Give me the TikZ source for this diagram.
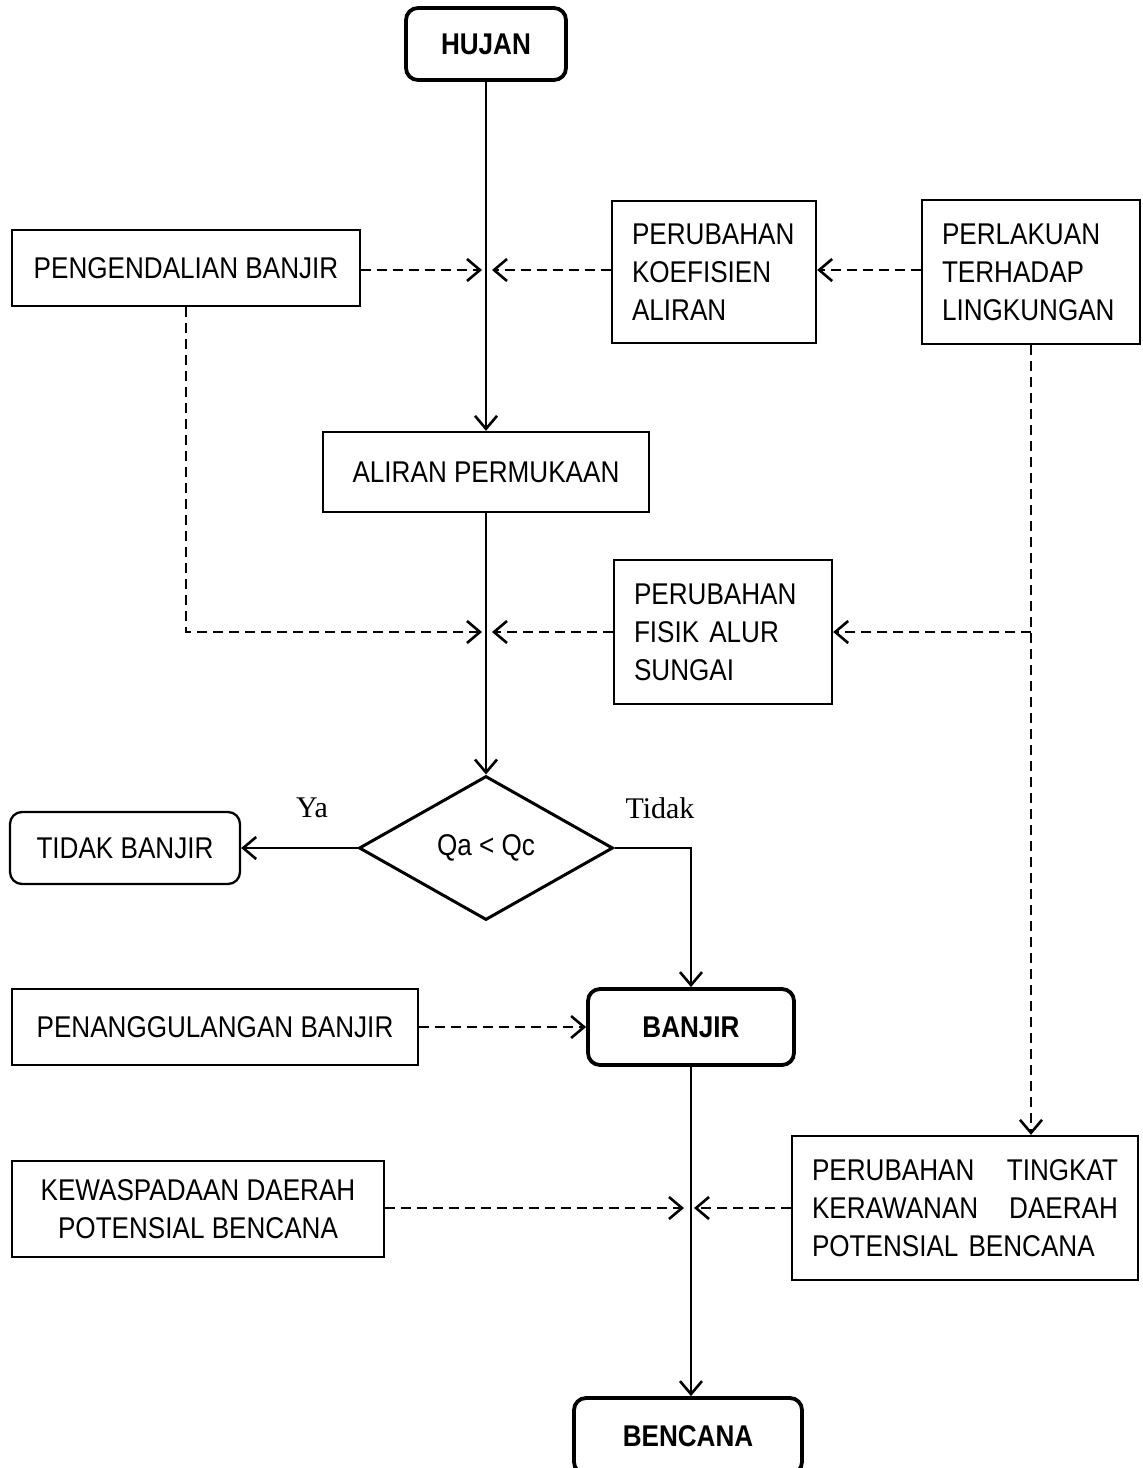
\documentclass[tikz,border=0pt]{standalone}
\usepackage{fontspec}
\setmainfont{Liberation Sans}[FakeStretch=0.87]
\newfontfamily\serifya{Liberation Serif}
\usetikzlibrary{arrows.meta,shapes.geometric,calc}
\tikzset{
  base/.style={font=\fontsize{30}{38}\selectfont, inner sep=0pt},
  rbox/.style={base, draw, line width=2.3pt},
  tbox/.style={rbox, align=left, inner xsep=20pt},
  thick box/.style={base, draw, line width=3.8pt, rounded corners=12pt, font=\fontsize{30}{38}\selectfont\bfseries},
  soft box/.style={base, draw, line width=2.3pt, rounded corners=12pt},
  conn/.style={line width=2.6pt, -{Straight Barb[length=13pt,width=22pt]}},
  dconn/.style={conn, dash pattern=on 10pt off 6pt},
  lbl/.style={font=\fontsize{30}{36}\selectfont\serifya, inner sep=0pt}
}
\begin{document}
\begin{tikzpicture}[x=1pt,y=-1pt]
\useasboundingbox (0,0) rectangle (1143,1468);
\clip (0,0) rectangle (1143,1468);
\fill[white] (0,0) rectangle (1143,1468);

\node[thick box, minimum width=160pt, minimum height=72pt] (hujan) at (486,44) {HUJAN};
\node[rbox, minimum width=348pt, minimum height=76pt] (peng) at (186,268) {PENGENDALIAN BANJIR};
\node[tbox, text width=164pt, minimum height=142pt] (koef) at (714,272) {PERUBAHAN\\KOEFISIEN\\ALIRAN};
\node[tbox, text width=178pt, minimum height=144pt] (perl) at (1031,272) {PERLAKUAN\\TERHADAP\\LINGKUNGAN};
\node[rbox, minimum width=326pt, minimum height=80pt] (aliran) at (486,472) {ALIRAN PERMUKAAN};
\node[tbox, text width=178pt, minimum height=144pt] (fisik) at (723,632) {PERUBAHAN\\FISIK ALUR\\SUNGAI};
\node[base, draw, line width=3pt, diamond, minimum width=254pt, minimum height=144pt] (dia) at (486,848) {Qa < Qc};
\node[soft box, minimum width=230pt, minimum height=72pt] (tidakb) at (125,848) {TIDAK BANJIR};
\node[rbox, minimum width=406pt, minimum height=76pt] (penang) at (215,1027) {PENANGGULANGAN BANJIR};
\node[thick box, minimum width=206pt, minimum height=76pt] (banjir) at (691,1027) {BANJIR};
\node[rbox, align=center, minimum width=372pt, minimum height=96pt] (kewas) at (198,1209) {KEWASPADAAN DAERAH\\POTENSIAL BENCANA};
\node[rbox, text width=306pt, inner xsep=20pt, minimum height=144pt, align=left] (tingkat) at (965,1208) {PERUBAHAN \hfill TINGKAT\\KERAWANAN \hfill DAERAH\\POTENSIAL BENCANA};
\node[thick box, minimum width=228pt, minimum height=76pt] (bencana) at (688,1436) {BENCANA};

\node[lbl] (ya) at (312,808) {Ya};
\node[lbl] (tidak) at (660,808) {Tidak};

% junction points on main line
\coordinate (j1) at (486,270);
\coordinate (j2) at (486,632);
\coordinate (j3) at (perl.south |- fisik.east);
\coordinate (j4) at (688,1208);

% solid flow
\draw[conn] (hujan.south) -- (hujan.south |- aliran.north);
\draw[conn] (aliran.south) -- (dia.north);
\draw[conn] (dia.west) -- (tidakb.east);
\draw[conn] (dia.east) -| (banjir.north);
\draw[conn] (banjir.south) -- (banjir.south |- bencana.north);

% dashed influences
\draw[dconn, shorten >=4pt] (peng.east |- j1) -- (j1);
\draw[dconn, shorten >=6pt] (koef.west |- j1) -- (j1);
\draw[dconn] (perl.west |- j1) -- (koef.east |- j1);
\draw[dconn, shorten >=4pt] (peng.south) |- (j2);
\draw[dconn, shorten >=6pt] (fisik.west) -- (j2);
\draw[dconn] (perl.south) -- (perl.south |- tingkat.north);
\draw[dconn] (j3) -- (fisik.east);
\draw[dconn] (penang.east) -- (banjir.west);
\draw[dconn, shorten >=4pt] (kewas.east |- j4) -- (j4);
\draw[dconn, shorten >=6pt] (tingkat.west) -- (j4);
\end{tikzpicture}
\end{document}
